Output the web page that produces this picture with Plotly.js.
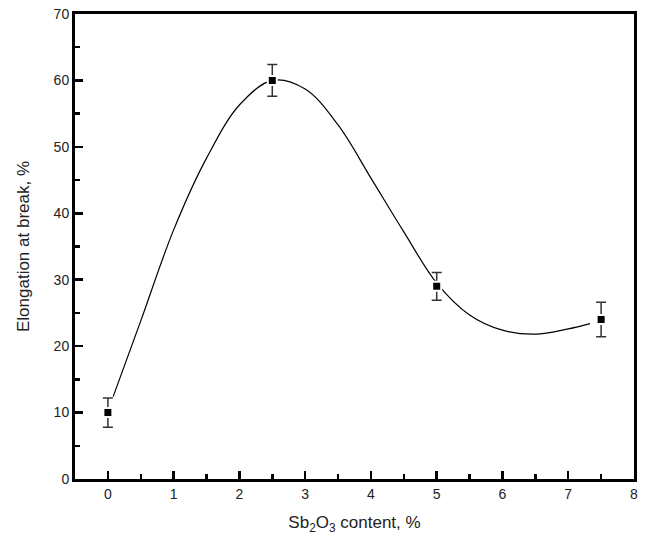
<!DOCTYPE html>
<html>
<head>
<meta charset="utf-8">
<script src="https://cdn.plot.ly/plotly-3.0.1.min.js"></script>
<style>html,body{margin:0;padding:0;background:#fff;}#chart{width:645px;height:543px;}</style>
</head>
<body>
<div id="chart"></div>
<script>
// Measured data points
const sb2o3Content = [0, 2.5, 5, 7.5];
const elongation = [10, 60, 29, 24];
const elongationError = [2.2, 2.4, 2.1, 2.6];

// Smooth curve
const curveX = [0.08, 0.5, 1.0, 1.5, 2.0, 2.5, 3.0, 3.5, 4.0, 4.5, 5.0, 5.5, 6.0, 6.5, 7.0, 7.33];
const curveY = [12.4, 23.8, 37.5, 48.3, 56.3, 60.0, 58.7, 53.3, 45.3, 37.2, 29.5, 24.7, 22.4, 21.8, 22.6, 23.4];

const xTicks = [0, 1, 2, 3, 4, 5, 6, 7, 8];
const yTicks = [0, 10, 20, 30, 40, 50, 60, 70];

const font = 'Liberation Sans, Arial, sans-serif';

const traces = [
  {
    x: curveX, y: curveY, mode: 'lines', type: 'scatter',
    line: {color: '#000', width: 1.2, shape: 'spline', smoothing: 1},
    hoverinfo: 'skip', showlegend: false
  },
  {
    x: sb2o3Content, y: elongation, mode: 'markers', type: 'scatter',
    marker: {symbol: 'square', size: 9, color: '#000', line: {color: '#fff', width: 2}},
    error_y: {type: 'data', array: elongationError, visible: true, color: '#333', thickness: 1.5, width: 5},
    showlegend: false
  }
];

const axisCommon = {
  showline: true, linecolor: '#000', linewidth: 3, mirror: true,
  ticks: 'inside', ticklen: 8, tickwidth: 2.5, tickcolor: '#000',
  showgrid: false, zeroline: false,
  tickfont: {family: font, size: 14, color: '#222'}
};

const layout = {
  width: 645, height: 543,
  margin: {l: 75, r: 11, t: 14, b: 64},
  paper_bgcolor: '#fff', plot_bgcolor: '#fff',
  showlegend: false,
  xaxis: Object.assign({}, axisCommon, {
    range: [-0.5, 8], tickmode: 'array', tickvals: xTicks, ticktext: xTicks.map(String),
    minor: {dtick: 0.5, tick0: 0, ticks: 'inside', ticklen: 5, tickwidth: 2.5, tickcolor: '#000'},
    title: {text: 'Sb<sub>2</sub>O<sub>3</sub> content, %', font: {family: font, size: 17, color: '#222'}, standoff: 16}
  }),
  yaxis: Object.assign({}, axisCommon, {
    range: [0, 70], tickmode: 'array', tickvals: yTicks, ticktext: yTicks.map(String),
    minor: {dtick: 5, tick0: 0, ticks: 'inside', ticklen: 5, tickwidth: 2.5, tickcolor: '#000'},
    title: {text: 'Elongation at break, %', font: {family: font, size: 17, color: '#222'}, standoff: 20}
  })
};

Plotly.newPlot('chart', traces, layout, {displayModeBar: false, staticPlot: true});
</script>
</body>
</html>
